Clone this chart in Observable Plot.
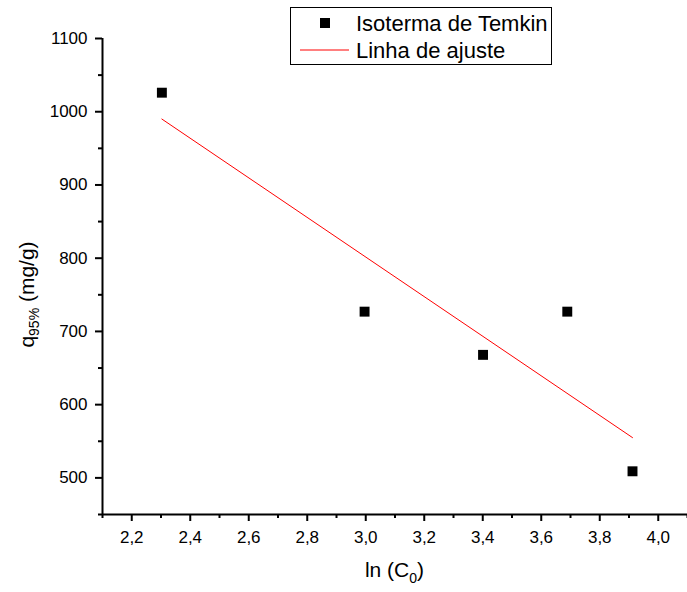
<!DOCTYPE html>
<html>
<head>
<meta charset="utf-8">
<script src="https://cdn.jsdelivr.net/npm/d3@7"></script>
<script src="https://cdn.jsdelivr.net/npm/@observablehq/plot@0.6"></script>
<style>
  html, body { margin: 0; padding: 0; background: #fff; }
  svg { display: block; }
</style>
</head>
<body>
<div id="chart"></div>
<script>
// Data
const lnC0 = [2.303, 2.996, 3.401, 3.689, 3.912];
const q95 = [1026, 727, 668, 727, 509];
const fitX = [2.303, 3.912];
const fitY = [990, 555];
const xMajor = [2.2, 2.4, 2.6, 2.8, 3.0, 3.2, 3.4, 3.6, 3.8, 4.0];
const xMinor = [2.1, 2.3, 2.5, 2.7, 2.9, 3.1, 3.3, 3.5, 3.7, 3.9, 4.1];
const yMajor = [500, 600, 700, 800, 900, 1000, 1100];
const yMinor = [450, 550, 650, 750, 850, 950, 1050];
const legendLabels = ["Isoterma de Temkin", "Linha de ajuste"];

const points = lnC0.map((x, i) => ({x, y: q95[i]}));
const fit = fitX.map((x, i) => ({x, y: fitY[i]}));
const comma = d => d3.format(".1f")(d).replace(".", ",");

const plot = Plot.plot({
  width: 687,
  height: 592,
  marginTop: 38,
  marginLeft: 102,
  marginBottom: 78,
  marginRight: 0,
  style: {fontFamily: "'Liberation Sans', Arial, sans-serif", fontSize: "17px", color: "#000", background: "#fff"},
  x: {domain: [2.1, 4.1]},
  y: {domain: [450, 1100]},
  marks: [
    Plot.axisX({ticks: xMajor, tickSize: 7, tickPadding: 9, tickFormat: comma, label: null, strokeWidth: 2, fontSize: 17}),
    Plot.axisX({ticks: xMinor, tickSize: 4, tickFormat: () => "", label: null, strokeWidth: 2}),
    Plot.axisY({ticks: yMajor, tickSize: 7, tickPadding: 8, tickFormat: d3.format("d"), label: null, strokeWidth: 2, fontSize: 17}),
    Plot.axisY({ticks: yMinor, tickSize: 4, tickFormat: () => "", label: null, strokeWidth: 2}),
    Plot.ruleX([2.1], {strokeWidth: 2}),
    Plot.ruleY([450], {strokeWidth: 2}),
    Plot.line(fit, {x: "x", y: "y", stroke: "#ff0000", strokeWidth: 1}),
    Plot.dot(points, {x: "x", y: "y", symbol: "square", r: 5.6, fill: "#000", stroke: "none"})
  ]
});
document.getElementById("chart").appendChild(plot);

const svg = d3.select(plot);
const font = "'Liberation Sans', Arial, sans-serif";

// X axis label: ln (C0)
const xl = svg.append("text")
  .attr("x", 394.5).attr("y", 577)
  .attr("text-anchor", "middle")
  .attr("font-family", font).attr("font-size", 21).attr("fill", "#000");
xl.append("tspan").text("ln (C");
xl.append("tspan").attr("font-size", 14).attr("dy", 6).text("0");
xl.append("tspan").attr("dy", -6).text(")");

// Y axis label: q95% (mg/g)
const yl = svg.append("text")
  .attr("transform", "translate(34,294.5) rotate(-90)")
  .attr("text-anchor", "middle")
  .attr("font-family", font).attr("font-size", 21).attr("fill", "#000");
yl.append("tspan").text("q");
yl.append("tspan").attr("font-size", 14).attr("dy", 5).text("95%");
yl.append("tspan").attr("dy", -5).text(" (mg/g)");

// Legend
const lg = svg.append("g").attr("text-anchor", "start");
lg.append("rect").attr("x", 290.5).attr("y", 7.5).attr("width", 261).attr("height", 57)
  .attr("fill", "#fff").attr("stroke", "#000").attr("stroke-width", 1);
lg.append("rect").attr("x", 320).attr("y", 18).attr("width", 10).attr("height", 10).attr("fill", "#000");
lg.append("text").attr("x", 356).attr("y", 31).attr("text-anchor", "start")
  .attr("font-family", font).attr("font-size", 22).attr("fill", "#000").text(legendLabels[0]);
lg.append("line").attr("x1", 300).attr("x2", 349).attr("y1", 50).attr("y2", 50)
  .attr("stroke", "#ff0000").attr("stroke-width", 1);
lg.append("text").attr("x", 356).attr("y", 58).attr("text-anchor", "start")
  .attr("font-family", font).attr("font-size", 22).attr("fill", "#000").text(legendLabels[1]);
</script>
</body>
</html>
